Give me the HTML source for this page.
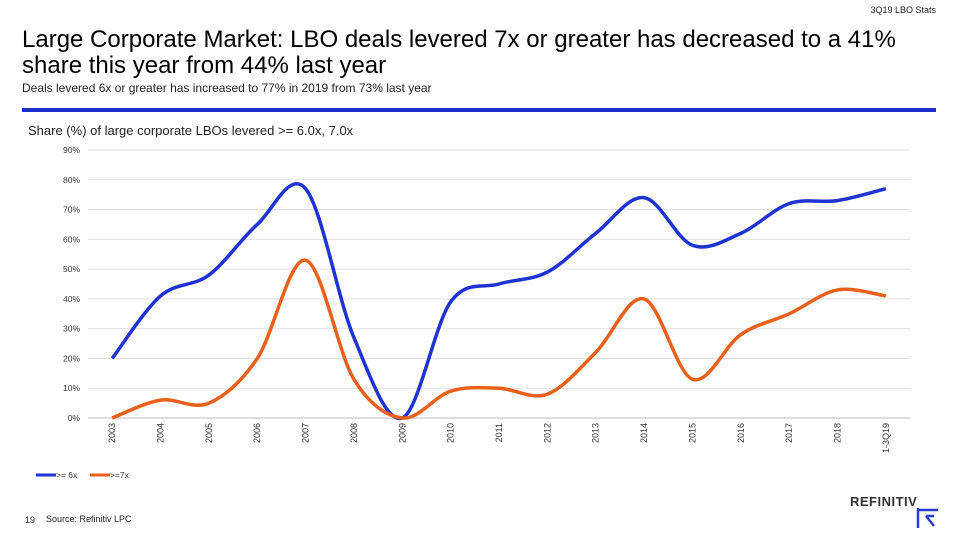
<!DOCTYPE html>
<html><head><meta charset="utf-8"><style>
body{margin:0;width:960px;height:540px;background:#fff;font-family:"Liberation Sans",sans-serif;position:relative;overflow:hidden}
.a{position:absolute;white-space:nowrap}
</style></head><body>
<div class="a" style="right:24px;top:5px;font-size:9px;color:#222">3Q19 LBO Stats</div>
<div class="a" style="left:22px;top:27px;font-size:24px;line-height:26px;color:#000">Large Corporate Market: LBO deals levered 7x or greater has decreased to a 41%<br>share this year from 44% last year</div>
<div class="a" style="left:22px;top:81px;font-size:12px;color:#222">Deals levered 6x or greater has increased to 77% in 2019 from 73% last year</div>
<div class="a" style="left:22px;top:108px;width:914px;height:4px;background:#1a2fc9"></div>
<div class="a" style="left:28px;top:123px;font-size:13px;color:#222">Share (%) of large corporate LBOs levered &gt;= 6.0x, 7.0x</div>
<svg class="a" style="left:0;top:0" width="960" height="540" id="chart"></svg>
<div class="a" style="left:25px;top:515px;font-size:9px;color:#222">19</div>
<div class="a" style="left:46px;top:514px;font-size:9px;color:#222">Source: Refinitiv LPC</div>
<div class="a" style="left:850px;top:494px;font-size:13px;font-weight:bold;letter-spacing:0.5px;color:#333">REFINITIV</div>
<svg class="a" style="left:916px;top:508px" width="24" height="20"><path d="M2 0V20M2 2H22M10 8L18 18M10 8H18" stroke="#2a3bd0" stroke-width="2.5" fill="none"/></svg>
<script>
const categories=["2003","2004","2005","2006","2007","2008","2009","2010","2011","2012","2013","2014","2015","2016","2017","2018","1-3Q19"];
const ge6=[20,41,48,65,77,27,0,39,45,49,62,74,58,62,72,73,77];
const ge7=[0,6,5,20,53,13,0,9,10,8,22,40,13,28,35,43,41];
const yTicks=[0,10,20,30,40,50,60,70,80,90];
const svg=document.getElementById('chart');const NS='http://www.w3.org/2000/svg';
const x0=88,x1=910,y0=418,yTop=150;
const bw=(x1-x0)/categories.length;
const X=i=>x0+bw*(i+0.5);const Y=v=>y0-(v/90)*(y0-yTop);
function el(t,a){const e=document.createElementNS(NS,t);for(const k in a)e.setAttribute(k,a[k]);svg.appendChild(e);return e;}
yTicks.forEach(t=>{
const g=el('line',{x1:x0,x2:x1,y1:Y(t),y2:Y(t),stroke:t===0?'#bbb':'#e2e2e2','stroke-width':1});


const tx=el('text',{x:80,y:Y(t)+3,'text-anchor':'end','font-size':8.5,fill:'#333','font-family':'Liberation Sans'});
tx.textContent=t+'%';


});
categories.forEach((c,i)=>{
const tx=el('text',{x:0,y:0,'text-anchor':'end','font-size':9,fill:'#333','font-family':'Liberation Sans',transform:`translate(${X(i)+3},423) rotate(-90)`});
tx.textContent=c;


});
function path(vals){const p=vals.map((v,i)=>[X(i),Y(v)]);let d=`M${p[0][0]},${p[0][1]}`;
for(let i=0;i<p.length-1;i++){const a=p[i-1]||p[i],b=p[i],c=p[i+1],e=p[i+2]||c;
d+=` C${b[0]+(c[0]-a[0])/6},${b[1]+(c[1]-a[1])/6} ${c[0]-(e[0]-b[0])/6},${c[1]-(e[1]-b[1])/6} ${c[0]},${c[1]}`;}return d;}
const l1=el('path',{d:path(ge6),stroke:'#1f33d0','stroke-width':3.5,fill:'none'});


const l2=el('path',{d:path(ge7),stroke:'#e8601c','stroke-width':3.5,fill:'none'});


[['#1f33d0','>= 6x',36],['#e8601c','>=7x',90]].forEach(([c,t,x])=>{
const g=el('line',{x1:x,x2:x+20,y1:475,y2:475,stroke:c,'stroke-width':3});


const tx=el('text',{x:x+20,y:478,'font-size':8.5,fill:'#333','font-family':'Liberation Sans'});
tx.textContent=t;


});
</script>
</body></html>
